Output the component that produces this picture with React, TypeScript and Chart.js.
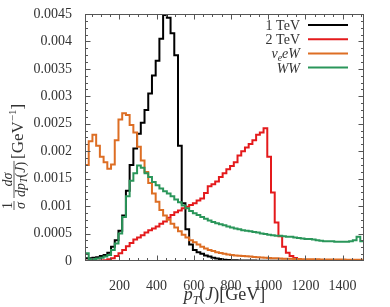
import React, { useEffect, useRef } from "react";
import { Chart, registerables } from "chart.js";

Chart.register(...registerables);

// Histogram binning (GeV)
const binLow = 15;
const binWidth = 20;

// 1/sigma dsigma/dpT(J) per bin [GeV^-1]
const oneTeV = [
  0.00005, 0.00005, 0.00006, 0.00007, 0.00009, 0.00011, 0.00015, 0.00026, 0.00038, 0.00055,
  0.00083, 0.00128, 0.00175, 0.00205, 0.00232, 0.00252, 0.00275, 0.00305, 0.00338, 0.00365,
  0.00405, 0.00448, 0.00443, 0.00415, 0.00375, 0.0021, 0.00105, 0.00058, 0.0003, 0.0002,
  0.00016, 0.00013, 0.0001, 0.00008, 0.00006, 0.000045, 0.000035, 0.000025, 0.00002, 0.000015,
  0.000012, 0.00001, 0.00001, 0.000008, 0.000008, 0.000007, 0.000006, 0.000006, 0.000005, 0.000005,
  0.000004, 0.000004, 0.000004, 0.000004, 0.000004, 0.000004, 0.000004, 0.000004, 0.000004, 0.000004,
  0.000003, 0.000003, 0.000003, 0.000003, 0.000003, 0.000003, 0.000003, 0.000003, 0.000003, 0.000003,
  0.000002, 0.000002, 0.000002, 0.000002, 0.000002,
];

const twoTeV = [
  0.000003, 0.000003, 0.000004, 0.000005, 0.000008, 0.000015, 0.00003, 0.00005, 0.00009, 0.00014,
  0.0002, 0.00027, 0.00033, 0.00039, 0.00043, 0.00047, 0.00052, 0.00056, 0.00059, 0.00063,
  0.00068, 0.00072, 0.00079, 0.00084, 0.00089, 0.00092, 0.00096, 0.00099, 0.00102, 0.00105,
  0.0011, 0.00114, 0.00124, 0.00136, 0.0014, 0.00145, 0.00153, 0.0016, 0.00167, 0.00173,
  0.0018, 0.00192, 0.002, 0.00207, 0.00213, 0.0022, 0.0023, 0.00234, 0.00242, 0.0019,
  0.00125, 0.0007, 0.00045, 0.00026, 0.00015, 0.00009, 0.000055, 0.00003, 0.00002, 0.000012,
  0.000008, 0.000006, 0.000005, 0.000004, 0.000004, 0.000003, 0.000003, 0.000003, 0.000003, 0.000002,
  0.000002, 0.000002, 0.000002, 0.000002, 0.000002,
];

const nuEW = [
  0.00175, 0.00218, 0.0023, 0.0021, 0.0019, 0.0018, 0.00168, 0.00176, 0.0022, 0.00258,
  0.00269, 0.00266, 0.00248, 0.00234, 0.00208, 0.00183, 0.00162, 0.00142, 0.00123, 0.00108,
  0.00093, 0.00083, 0.00075, 0.00068, 0.00061, 0.00054, 0.00048, 0.00043, 0.00038, 0.00034,
  0.0003, 0.00026, 0.00023, 0.0002, 0.00018, 0.00016, 0.000145, 0.00013, 0.00012, 0.00011,
  0.0001, 0.000095, 0.00009, 0.000085, 0.00008, 0.000075, 0.00007, 0.000065, 0.00006, 0.000056,
  0.000052, 0.000049, 0.000046, 0.000043, 0.000041, 0.000039, 0.000037, 0.000035, 0.000034, 0.000033,
  0.000032, 0.000031, 0.00003, 0.000029, 0.000028, 0.000028, 0.000027, 0.000027, 0.000026, 0.000026,
  0.000025, 0.000025, 0.000025, 0.000024, 0.000024,
];

const wW = [
  0.00014, 0.00003, 0.000035, 0.000045, 0.00006, 0.00008, 0.00011, 0.0002, 0.00032, 0.0005,
  0.0008, 0.00118, 0.00146, 0.0016, 0.00174, 0.0017, 0.0016, 0.00153, 0.00144, 0.00138,
  0.00132, 0.00127, 0.00123, 0.00118, 0.00112, 0.00107, 0.00101, 0.00096, 0.00091, 0.00087,
  0.00084, 0.0008, 0.00077, 0.00074, 0.00071, 0.00069, 0.00067, 0.00065, 0.00063, 0.00061,
  0.00059, 0.00058, 0.00056, 0.00055, 0.00054, 0.00053, 0.00052, 0.0005, 0.00049, 0.00048,
  0.00047, 0.00046, 0.00046, 0.00045, 0.00044, 0.00044, 0.00043, 0.00042, 0.00041, 0.0004,
  0.0004, 0.00039, 0.00038, 0.00037, 0.00036, 0.00036, 0.00036, 0.00035, 0.00035, 0.00035,
  0.00035, 0.00036, 0.00038, 0.00044, 0.00036,
];

const xTicks = [200, 400, 600, 800, 1000, 1200, 1400];
const yTicks = [0, 0.0005, 0.001, 0.0015, 0.002, 0.0025, 0.003, 0.0035, 0.004, 0.0045];
const yTickLabels = ["0", "0.0005", "0.001", "0.0015", "0.002", "0.0025", "0.003", "0.0035", "0.004", "0.0045"];

const SERIF = '"Liberation Serif", "DejaVu Serif", serif';
const TEXT = "#333";

type Seg = { t: string; f: string; dy?: number };

function segsWidth(ctx: CanvasRenderingContext2D, segs: Seg[]) {
  let w = 0;
  for (const s of segs) {
    ctx.font = s.f;
    w += ctx.measureText(s.t).width;
  }
  return w;
}

function drawSegs(ctx: CanvasRenderingContext2D, segs: Seg[], x: number, y: number) {
  let cx = x;
  for (const s of segs) {
    ctx.font = s.f;
    ctx.fillText(s.t, cx, y + (s.dy || 0));
    cx += ctx.measureText(s.t).width;
  }
  return cx;
}

function toSteps(vals: number[]) {
  const pts = vals.map((v, i) => ({ x: binLow + i * binWidth, y: v }));
  pts.push({ x: binLow + vals.length * binWidth, y: vals[vals.length - 1] });
  return pts;
}

const decor = {
  id: "decor",
  afterDraw(chart: any) {
    const { ctx, chartArea: a, scales } = chart;
    const xs = scales.x;
    const ys = scales.y;
    ctx.save();
    // frame
    ctx.strokeStyle = "#555";
    ctx.lineWidth = 1;
    const L = Math.round(a.left) + 0.5;
    const R = Math.round(a.right) - 0.5;
    const T = Math.round(a.top) + 0.5;
    const B = Math.round(a.bottom) - 0.5;
    ctx.strokeRect(L, T, R - L, B - T);
    ctx.beginPath();
    for (let v = 50; v < 1515; v += 50) {
      const px = Math.round(xs.getPixelForValue(v)) + 0.5;
      const len = v % 200 === 0 ? 5 : 2.5;
      ctx.moveTo(px, B);
      ctx.lineTo(px, B - len);
      ctx.moveTo(px, T);
      ctx.lineTo(px, T + len);
    }
    for (let k = 1; k < 36; k++) {
      const py = Math.round(ys.getPixelForValue(k * 0.000125)) + 0.5;
      const len = k % 4 === 0 ? 5 : 2.5;
      ctx.moveTo(L, py);
      ctx.lineTo(L + len, py);
      ctx.moveTo(R, py);
      ctx.lineTo(R - len, py);
    }
    ctx.stroke();

    // legend
    const legendItems: { segs: Seg[]; color: string }[] = [
      { segs: [{ t: "1 TeV", f: `14px ${SERIF}` }], color: "#000000" },
      { segs: [{ t: "2 TeV", f: `14px ${SERIF}` }], color: "#e41a1c" },
      {
        segs: [
          { t: "ν", f: `italic 14px ${SERIF}` },
          { t: "e", f: `italic 10px ${SERIF}`, dy: 3 },
          { t: "eW", f: `italic 14px ${SERIF}` },
        ],
        color: "#dd6e24",
      },
      { segs: [{ t: "WW", f: `italic 14px ${SERIF}` }], color: "#2a965a" },
    ];
    ctx.fillStyle = TEXT;
    ctx.textBaseline = "alphabetic";
    ctx.textAlign = "left";
    legendItems.forEach((it, i) => {
      const yRow = a.top + 11 + i * 14.2;
      const w = segsWidth(ctx, it.segs);
      drawSegs(ctx, it.segs, a.right - 64 - w, yRow + 5);
      ctx.strokeStyle = it.color;
      ctx.lineWidth = 2;
      ctx.beginPath();
      ctx.moveTo(a.right - 56, yRow);
      ctx.lineTo(a.right - 16, yRow);
      ctx.stroke();
    });

    // x title: p_T(J)[GeV]
    const xt: Seg[] = [
      { t: "p", f: `italic 18px ${SERIF}` },
      { t: "T", f: `italic 12px ${SERIF}`, dy: 4 },
      { t: "(", f: `18px ${SERIF}` },
      { t: "J", f: `italic 18px ${SERIF}` },
      { t: ")[GeV]", f: `18px ${SERIF}` },
    ];
    const xw = segsWidth(ctx, xt);
    drawSegs(ctx, xt, (a.left + a.right) / 2 - xw / 2, 300);

    // y title
    ctx.translate(14, 210);
    ctx.rotate(-Math.PI / 2);
    ctx.strokeStyle = TEXT;
    ctx.lineWidth = 0.8;
    const frac = (u0: number, num: Seg[], den: Seg[]) => {
      const wn = segsWidth(ctx, num);
      const wd = segsWidth(ctx, den);
      const w = Math.max(wn, wd) + 2;
      ctx.beginPath();
      ctx.moveTo(u0, 0);
      ctx.lineTo(u0 + w, 0);
      ctx.stroke();
      drawSegs(ctx, num, u0 + (w - wn) / 2, -2);
      drawSegs(ctx, den, u0 + (w - wd) / 2, 11);
      return u0 + w;
    };
    let u = frac(0, [{ t: "1", f: `14px ${SERIF}` }], [{ t: "σ", f: `italic 14px ${SERIF}` }]);
    u = frac(
      u + 3,
      [
        { t: "d", f: `italic 14px ${SERIF}` },
        { t: "σ", f: `italic 14px ${SERIF}` },
      ],
      [
        { t: "dp", f: `italic 14px ${SERIF}` },
        { t: "T", f: `italic 10px ${SERIF}`, dy: 2 },
        { t: "(", f: `14px ${SERIF}` },
        { t: "J", f: `italic 14px ${SERIF}` },
        { t: ")", f: `14px ${SERIF}` },
      ]
    );
    drawSegs(
      ctx,
      [
        { t: "[GeV", f: `17px ${SERIF}` },
        { t: "−1", f: `11px ${SERIF}`, dy: -7 },
        { t: "]", f: `17px ${SERIF}` },
      ],
      u + 2,
      9
    );
    ctx.restore();
  },
};

export default function App() {
  const ref = useRef<HTMLCanvasElement | null>(null);
  useEffect(() => {
    if (!ref.current) return;
    const mk = (label: string, vals: number[], color: string, order: number) => ({
      label,
      data: toSteps(vals),
      borderColor: color,
      backgroundColor: color,
      borderWidth: 2,
      pointRadius: 0,
      stepped: "before" as const,
      fill: false,
      order,
    });
    const chart = new Chart(ref.current, {
      type: "line",
      data: {
        datasets: [
          mk("1 TeV", oneTeV, "#000000", 4),
          mk("2 TeV", twoTeV, "#e41a1c", 3),
          mk("νeeW", nuEW, "#dd6e24", 2),
          mk("WW", wW, "#2a965a", 1),
        ],
      },
      options: {
        responsive: false,
        animation: false,
        devicePixelRatio: 1,
        layout: { padding: { left: 0, top: 14, right: 26, bottom: 0 } },
        plugins: { legend: { display: false }, tooltip: { enabled: false } },
        scales: {
          x: {
            type: "linear",
            min: binLow,
            max: binLow + oneTeV.length * binWidth,
            afterBuildTicks: (s: any) => {
              s.ticks = xTicks.map((v) => ({ value: v }));
            },
            afterFit: (s: any) => {
              s.height = 46;
            },
            grid: { display: false },
            border: { display: false },
            ticks: {
              autoSkip: false,
              maxRotation: 0,
              padding: 9,
              color: TEXT,
              font: { family: SERIF, size: 14 },
              callback: (v: any) => String(v),
            },
          },
          y: {
            type: "linear",
            min: 0,
            max: 0.0045,
            afterBuildTicks: (s: any) => {
              s.ticks = yTicks.map((v) => ({ value: v }));
            },
            afterFit: (s: any) => {
              s.width = 85;
            },
            grid: { display: false },
            border: { display: false },
            ticks: {
              padding: 5,
              color: TEXT,
              font: { family: SERIF, size: 14 },
              callback: (_v: any, i: number) => yTickLabels[i],
            },
          },
        },
      },
      plugins: [decor],
    });
    return () => chart.destroy();
  }, []);
  return (
    <div style={{ position: "absolute", left: 0, top: 0, width: 390, height: 307 }}>
      <canvas ref={ref} width={390} height={307} style={{ display: "block" }} />
    </div>
  );
}
